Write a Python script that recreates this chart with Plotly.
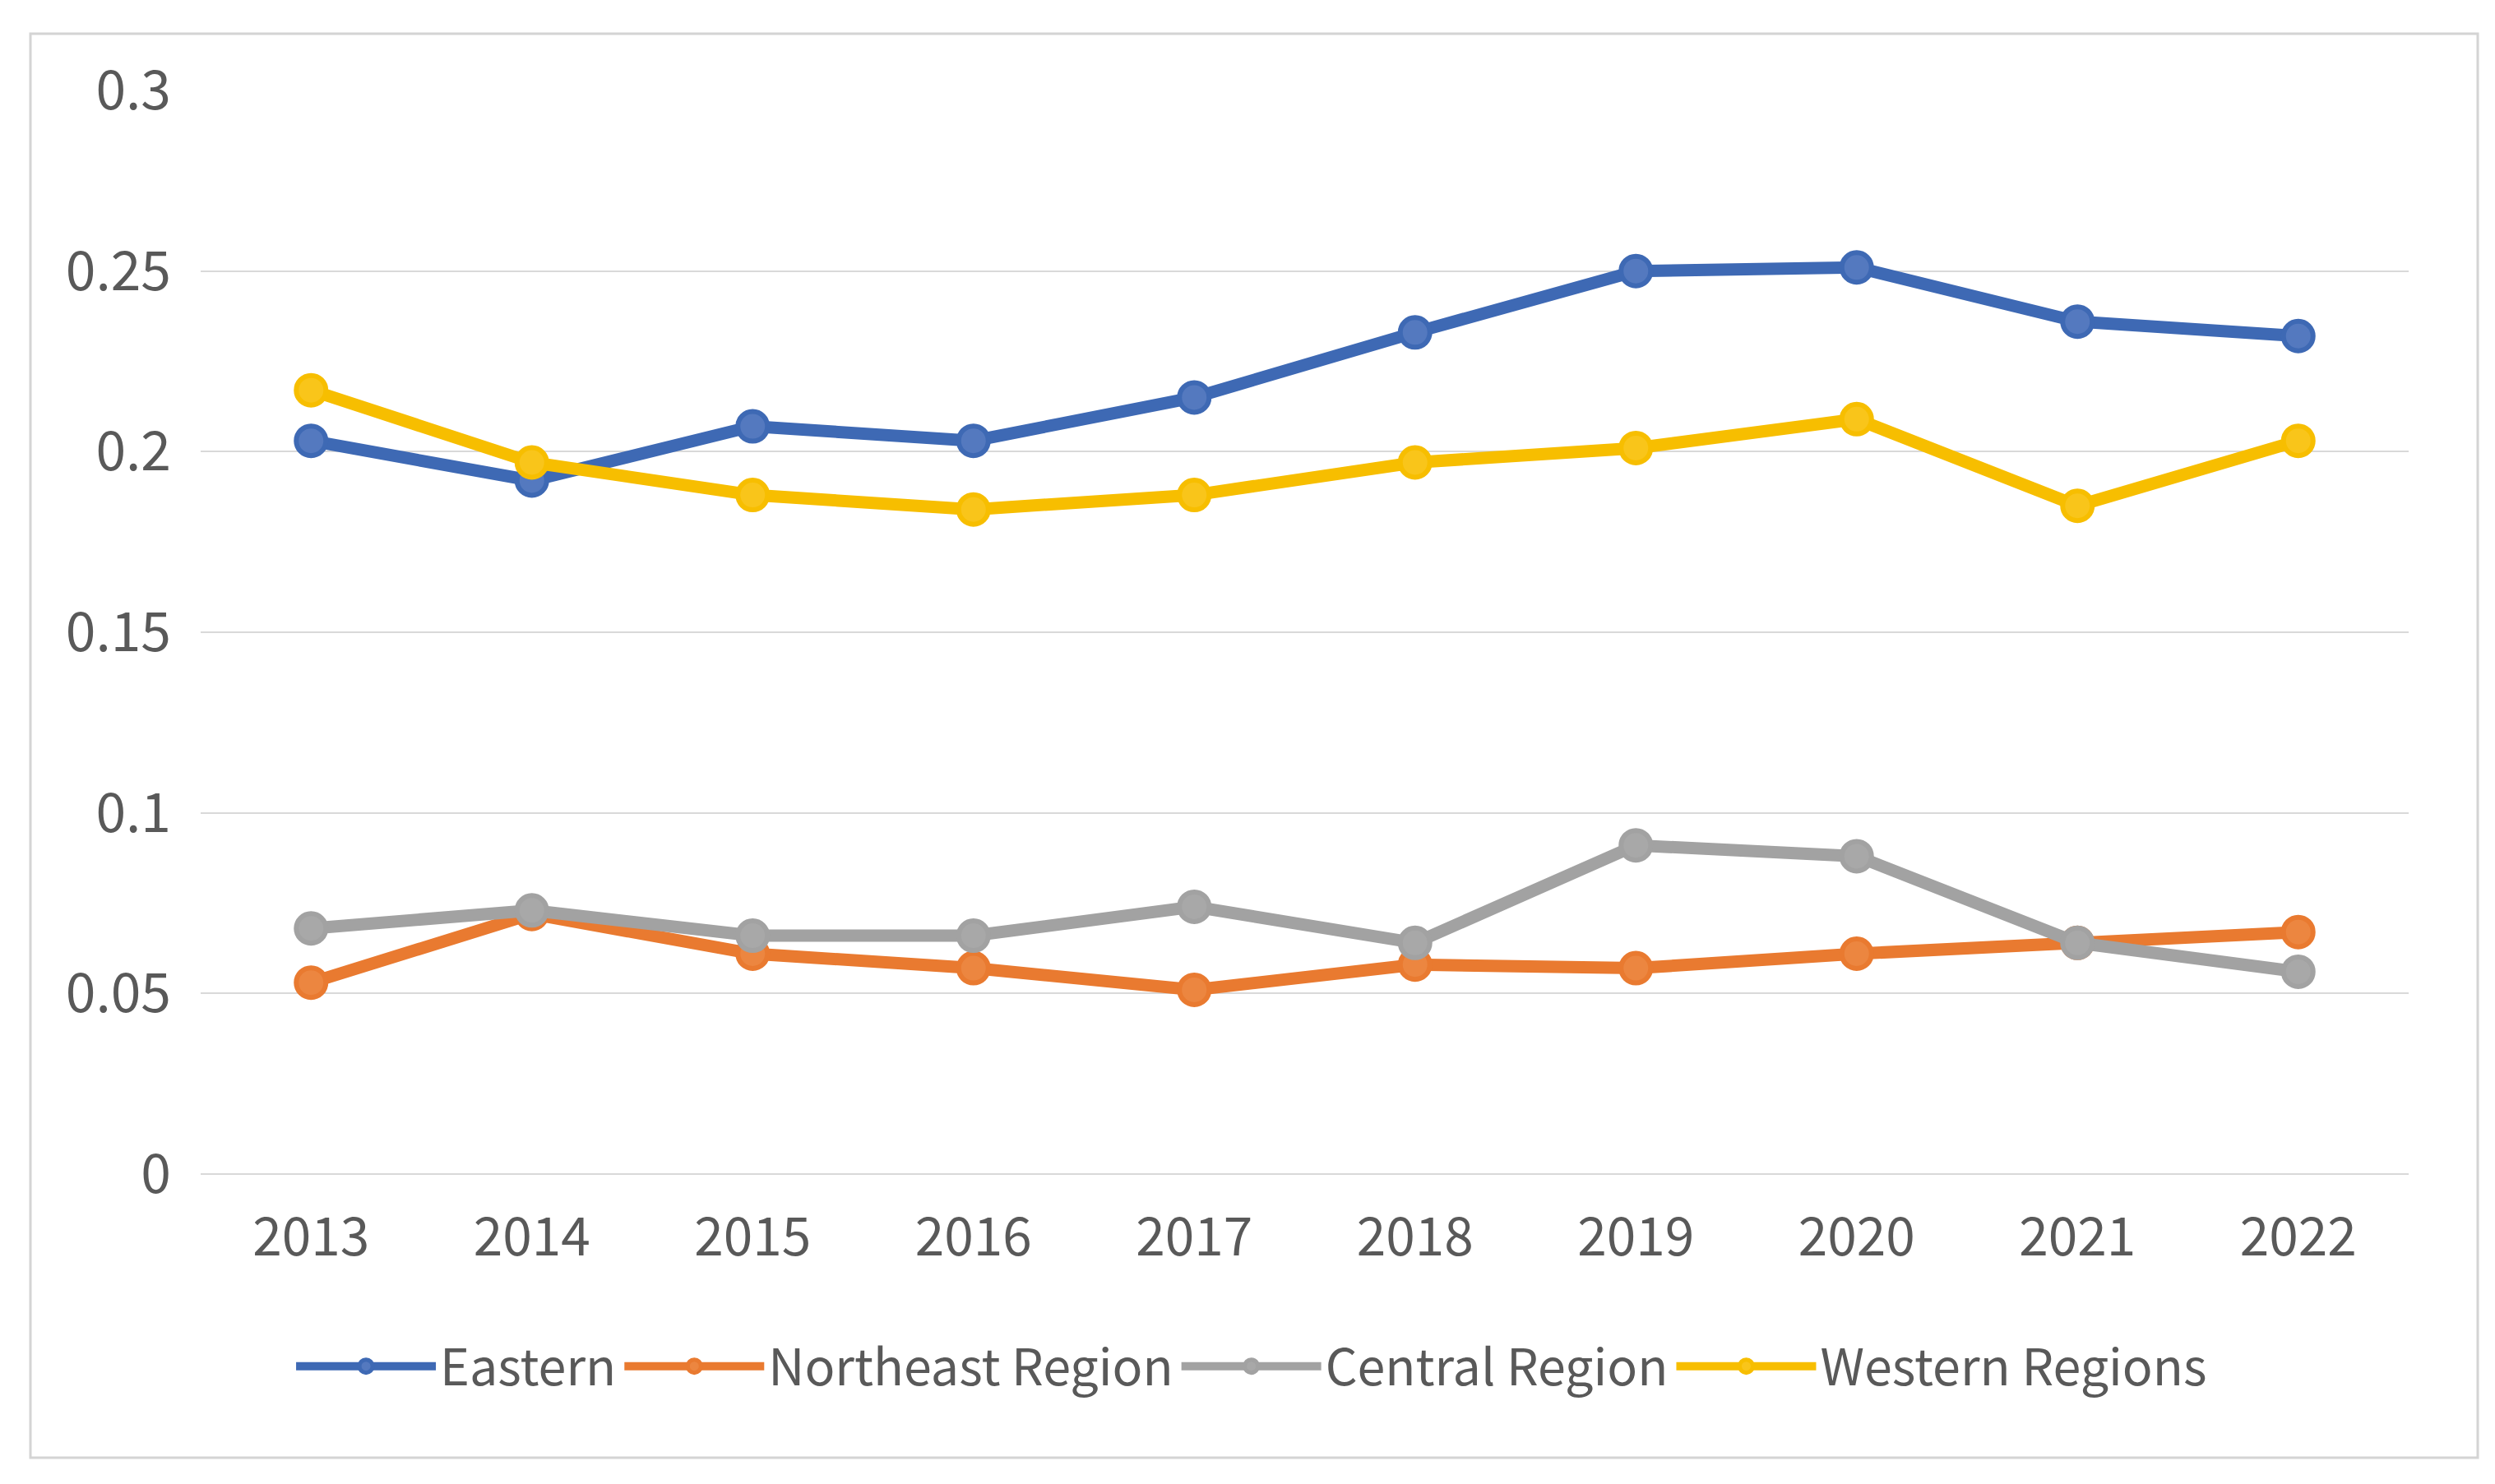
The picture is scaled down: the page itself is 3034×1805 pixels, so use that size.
import plotly.graph_objects as go

years = ['2013', '2014', '2015', '2016', '2017', '2018', '2019', '2020', '2021', '2022']

eastern = [0.203, 0.192, 0.207, 0.203, 0.215, 0.233, 0.250, 0.251, 0.236, 0.232]
northeast = [0.053, 0.072, 0.061, 0.057, 0.051, 0.058, 0.057, 0.061, 0.064, 0.067]
central = [0.068, 0.073, 0.066, 0.066, 0.074, 0.064, 0.091, 0.088, 0.064, 0.056]
western = [0.217, 0.197, 0.188, 0.184, 0.188, 0.197, 0.201, 0.209, 0.185, 0.203]

# (name, values, line colour, marker fill)
series = [
    ('Eastern', eastern, '#3E69B4', '#5479BF'),
    ('Northeast Region', northeast, '#E97A30', '#EC8640'),
    ('Central Region', central, '#A2A2A2', '#A8A8A8'),
    ('Western Regions', western, '#F7BE00', '#F9C51A'),
]

W, H = 3034, 1805
L, R, T, B = 236, 113, 102, 385
font_color = '#595959'
font_family = 'Noto Sans CJK SC'

fig = go.Figure()
for name, vals, color, fill in series:
    fig.add_trace(go.Scatter(
        x=years, y=vals, name=name, mode='lines+markers',
        line=dict(color=color, width=15),
        marker=dict(color=fill, size=36, line=dict(color=color, width=6)),
    ))

pw, ph = W - L - R, H - T - B
# light frame around the whole chart, like the Excel chart area
fig.add_shape(type='rect', xref='paper', yref='paper',
              x0=(29 - L) / pw, x1=(3005 - L) / pw,
              y0=(H - B - 1765) / ph, y1=(H - B - 33) / ph,
              line=dict(color='#D4D4D4', width=3), layer='below')

fig.update_layout(
    width=W, height=H,
    margin=dict(l=L, r=R, t=T, b=B),
    paper_bgcolor='white', plot_bgcolor='white',
    font=dict(family=font_family, size=64, color=font_color),
    showlegend=True,
    legend=dict(orientation='h', x=0.476, xanchor='center',
                y=(H - B - 1654) / ph, yanchor='middle',
                font=dict(family=font_family, size=61, color=font_color),
                itemwidth=170),
)
fig.update_xaxes(range=[-0.5, 9.5], showgrid=False, showline=False,
                 zeroline=False, ticks='', ticklabelstandoff=34,
                 tickfont=dict(family=font_family, size=64, color=font_color))
fig.update_yaxes(range=[0, 0.3], dtick=0.05, tickformat='~g',
                 showgrid=True, gridcolor='#D9D9D9', gridwidth=2,
                 zeroline=True, zerolinecolor='#D9D9D9', zerolinewidth=2,
                 showline=False, ticks='', ticklabelstandoff=35,
                 tickfont=dict(family=font_family, size=66, color=font_color))

fig.write_html('out.html')
